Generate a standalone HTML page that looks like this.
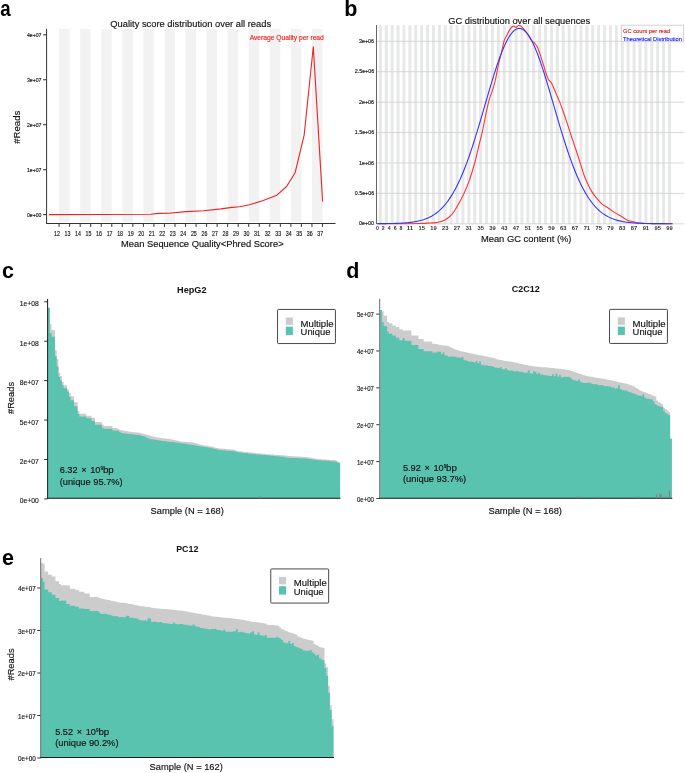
<!DOCTYPE html>
<html><head><meta charset="utf-8"><style>
html,body{margin:0;padding:0;background:#fff;}
svg{display:block;font-family:"Liberation Sans", sans-serif;will-change:transform;}
</style></head><body>
<svg width="685" height="773" viewBox="0 0 685 773">
<rect width="685" height="773" fill="#fff"/>
<text x="0.30" y="16.10" font-size="21.5" font-weight="bold" textLength="10.4" lengthAdjust="spacingAndGlyphs" fill="#000">a</text>
<text x="344.30" y="16.00" font-size="21.5" font-weight="bold" fill="#000">b</text>
<text x="2.00" y="278.20" font-size="21.5" font-weight="bold" fill="#000">c</text>
<text x="346.30" y="278.00" font-size="21.5" font-weight="bold" fill="#000">d</text>
<text x="2.00" y="565.00" font-size="21.5" font-weight="bold" fill="#000">e</text>
<rect x="59.10" y="29" width="10.54" height="193" fill="#f2f2f2"/>
<rect x="80.17" y="29" width="10.53" height="193" fill="#f2f2f2"/>
<rect x="101.24" y="29" width="10.53" height="193" fill="#f2f2f2"/>
<rect x="122.31" y="29" width="10.53" height="193" fill="#f2f2f2"/>
<rect x="143.38" y="29" width="10.53" height="193" fill="#f2f2f2"/>
<rect x="164.45" y="29" width="10.54" height="193" fill="#f2f2f2"/>
<rect x="185.52" y="29" width="10.53" height="193" fill="#f2f2f2"/>
<rect x="206.59" y="29" width="10.53" height="193" fill="#f2f2f2"/>
<rect x="227.66" y="29" width="10.53" height="193" fill="#f2f2f2"/>
<rect x="248.73" y="29" width="10.53" height="193" fill="#f2f2f2"/>
<rect x="269.80" y="29" width="10.54" height="193" fill="#f2f2f2"/>
<rect x="290.87" y="29" width="10.54" height="193" fill="#f2f2f2"/>
<rect x="311.94" y="29" width="10.54" height="193" fill="#f2f2f2"/>
<text x="110.30" y="26.60" font-size="9.33" textLength="160.8" lengthAdjust="spacingAndGlyphs" fill="#111" stroke="#111" stroke-width="0.15">Quality score distribution over all reads</text>
<text x="249.70" y="40.00" font-size="6.68" textLength="74.1" lengthAdjust="spacingAndGlyphs" fill="#ee2222" stroke="#ee2222" stroke-width="0.15">Average Quality per read</text>
<line x1="46.6" y1="28.9" x2="46.6" y2="224" stroke="#333" stroke-width="1"/>
<line x1="46.1" y1="223.5" x2="335.5" y2="223.5" stroke="#333" stroke-width="1"/>
<line x1="43.2" y1="34.80" x2="46.6" y2="34.80" stroke="#333" stroke-width="1.1"/>
<text x="41.50" y="37.40" font-size="5.6" text-anchor="end" textLength="14.5" lengthAdjust="spacingAndGlyphs" fill="#111" stroke="#111" stroke-width="0.15">4e+07</text>
<line x1="43.2" y1="79.75" x2="46.6" y2="79.75" stroke="#333" stroke-width="1.1"/>
<text x="41.50" y="82.35" font-size="5.6" text-anchor="end" textLength="14.5" lengthAdjust="spacingAndGlyphs" fill="#111" stroke="#111" stroke-width="0.15">3e+07</text>
<line x1="43.2" y1="124.70" x2="46.6" y2="124.70" stroke="#333" stroke-width="1.1"/>
<text x="41.50" y="127.30" font-size="5.6" text-anchor="end" textLength="14.5" lengthAdjust="spacingAndGlyphs" fill="#111" stroke="#111" stroke-width="0.15">2e+07</text>
<line x1="43.2" y1="169.65" x2="46.6" y2="169.65" stroke="#333" stroke-width="1.1"/>
<text x="41.50" y="172.25" font-size="5.6" text-anchor="end" textLength="14.5" lengthAdjust="spacingAndGlyphs" fill="#111" stroke="#111" stroke-width="0.15">1e+07</text>
<line x1="43.2" y1="214.60" x2="46.6" y2="214.60" stroke="#333" stroke-width="1.1"/>
<text x="41.50" y="217.20" font-size="5.6" text-anchor="end" textLength="14.5" lengthAdjust="spacingAndGlyphs" fill="#111" stroke="#111" stroke-width="0.15">0e+00</text>
<line x1="59.10" y1="223.5" x2="59.10" y2="226.9" stroke="#333" stroke-width="1.0"/>
<text x="56.90" y="235.80" font-size="6.9" text-anchor="middle" textLength="5.9" lengthAdjust="spacingAndGlyphs" fill="#111" stroke="#111" stroke-width="0.15">12</text>
<line x1="69.64" y1="223.5" x2="69.64" y2="226.9" stroke="#333" stroke-width="1.0"/>
<text x="67.44" y="235.80" font-size="6.9" text-anchor="middle" textLength="5.9" lengthAdjust="spacingAndGlyphs" fill="#111" stroke="#111" stroke-width="0.15">13</text>
<line x1="80.17" y1="223.5" x2="80.17" y2="226.9" stroke="#333" stroke-width="1.0"/>
<text x="77.97" y="235.80" font-size="6.9" text-anchor="middle" textLength="5.9" lengthAdjust="spacingAndGlyphs" fill="#111" stroke="#111" stroke-width="0.15">14</text>
<line x1="90.70" y1="223.5" x2="90.70" y2="226.9" stroke="#333" stroke-width="1.0"/>
<text x="88.50" y="235.80" font-size="6.9" text-anchor="middle" textLength="5.9" lengthAdjust="spacingAndGlyphs" fill="#111" stroke="#111" stroke-width="0.15">15</text>
<line x1="101.24" y1="223.5" x2="101.24" y2="226.9" stroke="#333" stroke-width="1.0"/>
<text x="99.04" y="235.80" font-size="6.9" text-anchor="middle" textLength="5.9" lengthAdjust="spacingAndGlyphs" fill="#111" stroke="#111" stroke-width="0.15">16</text>
<line x1="111.78" y1="223.5" x2="111.78" y2="226.9" stroke="#333" stroke-width="1.0"/>
<text x="109.58" y="235.80" font-size="6.9" text-anchor="middle" textLength="5.9" lengthAdjust="spacingAndGlyphs" fill="#111" stroke="#111" stroke-width="0.15">17</text>
<line x1="122.31" y1="223.5" x2="122.31" y2="226.9" stroke="#333" stroke-width="1.0"/>
<text x="120.11" y="235.80" font-size="6.9" text-anchor="middle" textLength="5.9" lengthAdjust="spacingAndGlyphs" fill="#111" stroke="#111" stroke-width="0.15">18</text>
<line x1="132.84" y1="223.5" x2="132.84" y2="226.9" stroke="#333" stroke-width="1.0"/>
<text x="130.65" y="235.80" font-size="6.9" text-anchor="middle" textLength="5.9" lengthAdjust="spacingAndGlyphs" fill="#111" stroke="#111" stroke-width="0.15">19</text>
<line x1="143.38" y1="223.5" x2="143.38" y2="226.9" stroke="#333" stroke-width="1.0"/>
<text x="141.18" y="235.80" font-size="6.9" text-anchor="middle" textLength="5.9" lengthAdjust="spacingAndGlyphs" fill="#111" stroke="#111" stroke-width="0.15">20</text>
<line x1="153.91" y1="223.5" x2="153.91" y2="226.9" stroke="#333" stroke-width="1.0"/>
<text x="151.72" y="235.80" font-size="6.9" text-anchor="middle" textLength="5.9" lengthAdjust="spacingAndGlyphs" fill="#111" stroke="#111" stroke-width="0.15">21</text>
<line x1="164.45" y1="223.5" x2="164.45" y2="226.9" stroke="#333" stroke-width="1.0"/>
<text x="162.25" y="235.80" font-size="6.9" text-anchor="middle" textLength="5.9" lengthAdjust="spacingAndGlyphs" fill="#111" stroke="#111" stroke-width="0.15">22</text>
<line x1="174.99" y1="223.5" x2="174.99" y2="226.9" stroke="#333" stroke-width="1.0"/>
<text x="172.79" y="235.80" font-size="6.9" text-anchor="middle" textLength="5.9" lengthAdjust="spacingAndGlyphs" fill="#111" stroke="#111" stroke-width="0.15">23</text>
<line x1="185.52" y1="223.5" x2="185.52" y2="226.9" stroke="#333" stroke-width="1.0"/>
<text x="183.32" y="235.80" font-size="6.9" text-anchor="middle" textLength="5.9" lengthAdjust="spacingAndGlyphs" fill="#111" stroke="#111" stroke-width="0.15">24</text>
<line x1="196.06" y1="223.5" x2="196.06" y2="226.9" stroke="#333" stroke-width="1.0"/>
<text x="193.86" y="235.80" font-size="6.9" text-anchor="middle" textLength="5.9" lengthAdjust="spacingAndGlyphs" fill="#111" stroke="#111" stroke-width="0.15">25</text>
<line x1="206.59" y1="223.5" x2="206.59" y2="226.9" stroke="#333" stroke-width="1.0"/>
<text x="204.39" y="235.80" font-size="6.9" text-anchor="middle" textLength="5.9" lengthAdjust="spacingAndGlyphs" fill="#111" stroke="#111" stroke-width="0.15">26</text>
<line x1="217.12" y1="223.5" x2="217.12" y2="226.9" stroke="#333" stroke-width="1.0"/>
<text x="214.93" y="235.80" font-size="6.9" text-anchor="middle" textLength="5.9" lengthAdjust="spacingAndGlyphs" fill="#111" stroke="#111" stroke-width="0.15">27</text>
<line x1="227.66" y1="223.5" x2="227.66" y2="226.9" stroke="#333" stroke-width="1.0"/>
<text x="225.46" y="235.80" font-size="6.9" text-anchor="middle" textLength="5.9" lengthAdjust="spacingAndGlyphs" fill="#111" stroke="#111" stroke-width="0.15">28</text>
<line x1="238.19" y1="223.5" x2="238.19" y2="226.9" stroke="#333" stroke-width="1.0"/>
<text x="236.00" y="235.80" font-size="6.9" text-anchor="middle" textLength="5.9" lengthAdjust="spacingAndGlyphs" fill="#111" stroke="#111" stroke-width="0.15">29</text>
<line x1="248.73" y1="223.5" x2="248.73" y2="226.9" stroke="#333" stroke-width="1.0"/>
<text x="246.53" y="235.80" font-size="6.9" text-anchor="middle" textLength="5.9" lengthAdjust="spacingAndGlyphs" fill="#111" stroke="#111" stroke-width="0.15">30</text>
<line x1="259.26" y1="223.5" x2="259.26" y2="226.9" stroke="#333" stroke-width="1.0"/>
<text x="257.06" y="235.80" font-size="6.9" text-anchor="middle" textLength="5.9" lengthAdjust="spacingAndGlyphs" fill="#111" stroke="#111" stroke-width="0.15">31</text>
<line x1="269.80" y1="223.5" x2="269.80" y2="226.9" stroke="#333" stroke-width="1.0"/>
<text x="267.60" y="235.80" font-size="6.9" text-anchor="middle" textLength="5.9" lengthAdjust="spacingAndGlyphs" fill="#111" stroke="#111" stroke-width="0.15">32</text>
<line x1="280.34" y1="223.5" x2="280.34" y2="226.9" stroke="#333" stroke-width="1.0"/>
<text x="278.14" y="235.80" font-size="6.9" text-anchor="middle" textLength="5.9" lengthAdjust="spacingAndGlyphs" fill="#111" stroke="#111" stroke-width="0.15">33</text>
<line x1="290.87" y1="223.5" x2="290.87" y2="226.9" stroke="#333" stroke-width="1.0"/>
<text x="288.67" y="235.80" font-size="6.9" text-anchor="middle" textLength="5.9" lengthAdjust="spacingAndGlyphs" fill="#111" stroke="#111" stroke-width="0.15">34</text>
<line x1="301.41" y1="223.5" x2="301.41" y2="226.9" stroke="#333" stroke-width="1.0"/>
<text x="299.21" y="235.80" font-size="6.9" text-anchor="middle" textLength="5.9" lengthAdjust="spacingAndGlyphs" fill="#111" stroke="#111" stroke-width="0.15">35</text>
<line x1="311.94" y1="223.5" x2="311.94" y2="226.9" stroke="#333" stroke-width="1.0"/>
<text x="309.74" y="235.80" font-size="6.9" text-anchor="middle" textLength="5.9" lengthAdjust="spacingAndGlyphs" fill="#111" stroke="#111" stroke-width="0.15">36</text>
<line x1="322.48" y1="223.5" x2="322.48" y2="226.9" stroke="#333" stroke-width="1.0"/>
<text x="320.28" y="235.80" font-size="6.9" text-anchor="middle" textLength="5.9" lengthAdjust="spacingAndGlyphs" fill="#111" stroke="#111" stroke-width="0.15">37</text>
<text x="121.00" y="247.40" font-size="9.35" textLength="162.6" lengthAdjust="spacingAndGlyphs" fill="#111" stroke="#111" stroke-width="0.15">Mean Sequence Quality&lt;Phred Score&gt;</text>
<text x="20.20" y="127.20" font-size="9.6" text-anchor="middle" fill="#111" stroke="#111" stroke-width="0.15" transform="rotate(-90 20.2 127.2)">#Reads</text>
<polyline fill="none" stroke="#ee2222" stroke-width="1.1" stroke-linejoin="round" points="49.0,214.6 151.0,214.2 158.6,213.4 168.5,213.3 186.0,211.6 203.5,210.7 221.0,208.9 232.0,207.4 239.6,206.7 249.5,204.7 262.6,200.8 276.9,195.2 286.6,186.5 295.1,172.8 304.2,134.8 313.3,46.8 322.6,201.6"/>
<rect x="378.85" y="25.2" width="3.0" height="198.8" fill="#e7e8e8"/>
<rect x="384.75" y="25.2" width="3.0" height="198.8" fill="#e7e8e8"/>
<rect x="390.65" y="25.2" width="3.0" height="198.8" fill="#e7e8e8"/>
<rect x="396.55" y="25.2" width="3.0" height="198.8" fill="#e7e8e8"/>
<rect x="402.45" y="25.2" width="3.0" height="198.8" fill="#e7e8e8"/>
<rect x="408.35" y="25.2" width="3.0" height="198.8" fill="#e7e8e8"/>
<rect x="414.25" y="25.2" width="3.0" height="198.8" fill="#e7e8e8"/>
<rect x="420.15" y="25.2" width="3.0" height="198.8" fill="#e7e8e8"/>
<rect x="426.05" y="25.2" width="3.0" height="198.8" fill="#e7e8e8"/>
<rect x="431.95" y="25.2" width="3.0" height="198.8" fill="#e7e8e8"/>
<rect x="437.85" y="25.2" width="3.0" height="198.8" fill="#e7e8e8"/>
<rect x="443.75" y="25.2" width="3.0" height="198.8" fill="#e7e8e8"/>
<rect x="449.65" y="25.2" width="3.0" height="198.8" fill="#e7e8e8"/>
<rect x="455.55" y="25.2" width="3.0" height="198.8" fill="#e7e8e8"/>
<rect x="461.45" y="25.2" width="3.0" height="198.8" fill="#e7e8e8"/>
<rect x="467.35" y="25.2" width="3.0" height="198.8" fill="#e7e8e8"/>
<rect x="473.25" y="25.2" width="3.0" height="198.8" fill="#e7e8e8"/>
<rect x="479.15" y="25.2" width="3.0" height="198.8" fill="#e7e8e8"/>
<rect x="485.05" y="25.2" width="3.0" height="198.8" fill="#e7e8e8"/>
<rect x="490.95" y="25.2" width="3.0" height="198.8" fill="#e7e8e8"/>
<rect x="496.85" y="25.2" width="3.0" height="198.8" fill="#e7e8e8"/>
<rect x="502.75" y="25.2" width="3.0" height="198.8" fill="#e7e8e8"/>
<rect x="508.65" y="25.2" width="3.0" height="198.8" fill="#e7e8e8"/>
<rect x="514.55" y="25.2" width="3.0" height="198.8" fill="#e7e8e8"/>
<rect x="520.45" y="25.2" width="3.0" height="198.8" fill="#e7e8e8"/>
<rect x="526.35" y="25.2" width="3.0" height="198.8" fill="#e7e8e8"/>
<rect x="532.25" y="25.2" width="3.0" height="198.8" fill="#e7e8e8"/>
<rect x="538.15" y="25.2" width="3.0" height="198.8" fill="#e7e8e8"/>
<rect x="544.05" y="25.2" width="3.0" height="198.8" fill="#e7e8e8"/>
<rect x="549.95" y="25.2" width="3.0" height="198.8" fill="#e7e8e8"/>
<rect x="555.85" y="25.2" width="3.0" height="198.8" fill="#e7e8e8"/>
<rect x="561.75" y="25.2" width="3.0" height="198.8" fill="#e7e8e8"/>
<rect x="567.65" y="25.2" width="3.0" height="198.8" fill="#e7e8e8"/>
<rect x="573.55" y="25.2" width="3.0" height="198.8" fill="#e7e8e8"/>
<rect x="579.45" y="25.2" width="3.0" height="198.8" fill="#e7e8e8"/>
<rect x="585.35" y="25.2" width="3.0" height="198.8" fill="#e7e8e8"/>
<rect x="591.25" y="25.2" width="3.0" height="198.8" fill="#e7e8e8"/>
<rect x="597.15" y="25.2" width="3.0" height="198.8" fill="#e7e8e8"/>
<rect x="603.05" y="25.2" width="3.0" height="198.8" fill="#e7e8e8"/>
<rect x="608.95" y="25.2" width="3.0" height="198.8" fill="#e7e8e8"/>
<rect x="614.85" y="25.2" width="3.0" height="198.8" fill="#e7e8e8"/>
<rect x="620.75" y="25.2" width="3.0" height="198.8" fill="#e7e8e8"/>
<rect x="626.65" y="25.2" width="3.0" height="198.8" fill="#e7e8e8"/>
<rect x="632.55" y="25.2" width="3.0" height="198.8" fill="#e7e8e8"/>
<rect x="638.45" y="25.2" width="3.0" height="198.8" fill="#e7e8e8"/>
<rect x="644.35" y="25.2" width="3.0" height="198.8" fill="#e7e8e8"/>
<rect x="650.25" y="25.2" width="3.0" height="198.8" fill="#e7e8e8"/>
<rect x="656.15" y="25.2" width="3.0" height="198.8" fill="#e7e8e8"/>
<rect x="662.05" y="25.2" width="3.0" height="198.8" fill="#e7e8e8"/>
<rect x="667.95" y="25.2" width="3.0" height="198.8" fill="#e7e8e8"/>
<line x1="377" y1="41.30" x2="683.8" y2="41.30" stroke="#d2d2d2" stroke-width="0.9"/>
<line x1="377" y1="71.72" x2="683.8" y2="71.72" stroke="#d2d2d2" stroke-width="0.9"/>
<line x1="377" y1="102.14" x2="683.8" y2="102.14" stroke="#d2d2d2" stroke-width="0.9"/>
<line x1="377" y1="132.56" x2="683.8" y2="132.56" stroke="#d2d2d2" stroke-width="0.9"/>
<line x1="377" y1="162.98" x2="683.8" y2="162.98" stroke="#d2d2d2" stroke-width="0.9"/>
<line x1="377" y1="193.40" x2="683.8" y2="193.40" stroke="#d2d2d2" stroke-width="0.9"/>
<line x1="377" y1="223.82" x2="683.8" y2="223.82" stroke="#d2d2d2" stroke-width="0.9"/>
<line x1="376.5" y1="25" x2="376.5" y2="224.2" stroke="#555" stroke-width="0.9"/>
<text x="374.10" y="42.85" font-size="6.0" text-anchor="end" textLength="15.1" lengthAdjust="spacingAndGlyphs" fill="#111" stroke="#111" stroke-width="0.15">3e+06</text>
<text x="374.10" y="73.27" font-size="6.0" text-anchor="end" textLength="19.3" lengthAdjust="spacingAndGlyphs" fill="#111" stroke="#111" stroke-width="0.15">2.5e+06</text>
<text x="374.10" y="103.69" font-size="6.0" text-anchor="end" textLength="15.1" lengthAdjust="spacingAndGlyphs" fill="#111" stroke="#111" stroke-width="0.15">2e+06</text>
<text x="374.10" y="134.11" font-size="6.0" text-anchor="end" textLength="19.3" lengthAdjust="spacingAndGlyphs" fill="#111" stroke="#111" stroke-width="0.15">1.5e+06</text>
<text x="374.10" y="164.53" font-size="6.0" text-anchor="end" textLength="15.1" lengthAdjust="spacingAndGlyphs" fill="#111" stroke="#111" stroke-width="0.15">1e+06</text>
<text x="374.10" y="194.95" font-size="6.0" text-anchor="end" textLength="19.3" lengthAdjust="spacingAndGlyphs" fill="#111" stroke="#111" stroke-width="0.15">0.5e+06</text>
<text x="374.10" y="225.37" font-size="6.0" text-anchor="end" textLength="15.1" lengthAdjust="spacingAndGlyphs" fill="#111" stroke="#111" stroke-width="0.15">0e+00</text>
<text x="377.40" y="229.80" font-size="5.2" text-anchor="middle" font-weight="bold" textLength="2.9" lengthAdjust="spacingAndGlyphs" fill="#333">0</text>
<text x="383.30" y="229.80" font-size="5.2" text-anchor="middle" font-weight="bold" textLength="2.9" lengthAdjust="spacingAndGlyphs" fill="#333">2</text>
<text x="389.20" y="229.80" font-size="5.2" text-anchor="middle" font-weight="bold" textLength="2.9" lengthAdjust="spacingAndGlyphs" fill="#333">4</text>
<text x="395.10" y="229.80" font-size="5.2" text-anchor="middle" font-weight="bold" textLength="2.9" lengthAdjust="spacingAndGlyphs" fill="#333">6</text>
<text x="401.00" y="229.80" font-size="5.2" text-anchor="middle" font-weight="bold" textLength="2.9" lengthAdjust="spacingAndGlyphs" fill="#333">8</text>
<text x="409.85" y="229.80" font-size="5.2" text-anchor="middle" font-weight="bold" textLength="6.4" lengthAdjust="spacingAndGlyphs" fill="#333">11</text>
<text x="421.65" y="229.80" font-size="5.2" text-anchor="middle" font-weight="bold" textLength="6.4" lengthAdjust="spacingAndGlyphs" fill="#333">15</text>
<text x="433.45" y="229.80" font-size="5.2" text-anchor="middle" font-weight="bold" textLength="6.4" lengthAdjust="spacingAndGlyphs" fill="#333">19</text>
<text x="445.25" y="229.80" font-size="5.2" text-anchor="middle" font-weight="bold" textLength="6.4" lengthAdjust="spacingAndGlyphs" fill="#333">23</text>
<text x="457.05" y="229.80" font-size="5.2" text-anchor="middle" font-weight="bold" textLength="6.4" lengthAdjust="spacingAndGlyphs" fill="#333">27</text>
<text x="468.85" y="229.80" font-size="5.2" text-anchor="middle" font-weight="bold" textLength="6.4" lengthAdjust="spacingAndGlyphs" fill="#333">31</text>
<text x="480.65" y="229.80" font-size="5.2" text-anchor="middle" font-weight="bold" textLength="6.4" lengthAdjust="spacingAndGlyphs" fill="#333">35</text>
<text x="492.45" y="229.80" font-size="5.2" text-anchor="middle" font-weight="bold" textLength="6.4" lengthAdjust="spacingAndGlyphs" fill="#333">39</text>
<text x="504.25" y="229.80" font-size="5.2" text-anchor="middle" font-weight="bold" textLength="6.4" lengthAdjust="spacingAndGlyphs" fill="#333">43</text>
<text x="516.05" y="229.80" font-size="5.2" text-anchor="middle" font-weight="bold" textLength="6.4" lengthAdjust="spacingAndGlyphs" fill="#333">47</text>
<text x="527.85" y="229.80" font-size="5.2" text-anchor="middle" font-weight="bold" textLength="6.4" lengthAdjust="spacingAndGlyphs" fill="#333">51</text>
<text x="539.65" y="229.80" font-size="5.2" text-anchor="middle" font-weight="bold" textLength="6.4" lengthAdjust="spacingAndGlyphs" fill="#333">55</text>
<text x="551.45" y="229.80" font-size="5.2" text-anchor="middle" font-weight="bold" textLength="6.4" lengthAdjust="spacingAndGlyphs" fill="#333">59</text>
<text x="563.25" y="229.80" font-size="5.2" text-anchor="middle" font-weight="bold" textLength="6.4" lengthAdjust="spacingAndGlyphs" fill="#333">63</text>
<text x="575.05" y="229.80" font-size="5.2" text-anchor="middle" font-weight="bold" textLength="6.4" lengthAdjust="spacingAndGlyphs" fill="#333">67</text>
<text x="586.85" y="229.80" font-size="5.2" text-anchor="middle" font-weight="bold" textLength="6.4" lengthAdjust="spacingAndGlyphs" fill="#333">71</text>
<text x="598.65" y="229.80" font-size="5.2" text-anchor="middle" font-weight="bold" textLength="6.4" lengthAdjust="spacingAndGlyphs" fill="#333">75</text>
<text x="610.45" y="229.80" font-size="5.2" text-anchor="middle" font-weight="bold" textLength="6.4" lengthAdjust="spacingAndGlyphs" fill="#333">79</text>
<text x="622.25" y="229.80" font-size="5.2" text-anchor="middle" font-weight="bold" textLength="6.4" lengthAdjust="spacingAndGlyphs" fill="#333">83</text>
<text x="634.05" y="229.80" font-size="5.2" text-anchor="middle" font-weight="bold" textLength="6.4" lengthAdjust="spacingAndGlyphs" fill="#333">87</text>
<text x="645.85" y="229.80" font-size="5.2" text-anchor="middle" font-weight="bold" textLength="6.4" lengthAdjust="spacingAndGlyphs" fill="#333">91</text>
<text x="657.65" y="229.80" font-size="5.2" text-anchor="middle" font-weight="bold" textLength="6.4" lengthAdjust="spacingAndGlyphs" fill="#333">95</text>
<text x="669.45" y="229.80" font-size="5.2" text-anchor="middle" font-weight="bold" textLength="6.4" lengthAdjust="spacingAndGlyphs" fill="#333">99</text>
<text x="448.20" y="23.50" font-size="9.33" textLength="142" lengthAdjust="spacingAndGlyphs" fill="#111" stroke="#111" stroke-width="0.15">GC distribution over all sequences</text>
<text x="480.90" y="242.30" font-size="9.37" textLength="90.6" lengthAdjust="spacingAndGlyphs" fill="#111" stroke="#111" stroke-width="0.15">Mean GC content (%)</text>
<rect x="621.3" y="25.2" width="62.4" height="16.5" fill="#fff" stroke="#c8c8c8" stroke-width="0.8"/>
<text x="623.00" y="33.20" font-size="5.7" textLength="47.1" lengthAdjust="spacingAndGlyphs" fill="#dd2222" stroke="#dd2222" stroke-width="0.15">GC count per read</text>
<text x="623.00" y="40.90" font-size="5.7" textLength="58.9" lengthAdjust="spacingAndGlyphs" fill="#2222ee" stroke="#2222ee" stroke-width="0.15">Theoretical Distribution</text>
<path fill="none" stroke="#ff3333" stroke-width="1.1" stroke-linejoin="round" d="M377.40,223.70 C381.17,223.70 392.90,223.73 400.00,223.70 C407.10,223.67 415.00,223.62 420.00,223.50 C425.00,223.38 427.33,223.15 430.00,223.00 C432.67,222.85 434.33,222.80 436.00,222.60 C437.67,222.40 438.52,222.25 440.00,221.80 C441.48,221.35 443.28,220.78 444.90,219.90 C446.52,219.02 448.08,218.03 449.70,216.50 C451.32,214.97 452.98,213.05 454.60,210.70 C456.22,208.35 457.78,205.40 459.40,202.40 C461.02,199.40 462.68,196.25 464.30,192.70 C465.92,189.15 467.48,185.63 469.10,181.10 C470.72,176.57 472.75,169.77 474.00,165.50 C475.25,161.23 475.70,159.17 476.60,155.50 C477.50,151.83 478.47,147.33 479.40,143.50 C480.33,139.67 481.20,137.02 482.20,132.50 C483.20,127.98 484.35,121.42 485.40,116.40 C486.45,111.38 487.65,105.85 488.50,102.40 C489.35,98.95 489.65,98.30 490.50,95.70 C491.35,93.10 492.77,89.50 493.60,86.80 C494.43,84.10 494.65,83.38 495.50,79.50 C496.35,75.62 497.65,68.23 498.70,63.50 C499.75,58.77 500.90,54.88 501.80,51.10 C502.70,47.32 503.33,43.27 504.10,40.80 C504.87,38.33 505.50,38.08 506.40,36.30 C507.30,34.52 508.58,31.65 509.50,30.10 C510.42,28.55 511.18,27.67 511.90,27.00 C512.62,26.33 513.10,26.03 513.80,26.10 C514.50,26.17 515.20,27.53 516.10,27.40 C517.00,27.27 518.10,25.23 519.20,25.30 C520.30,25.37 521.60,26.75 522.70,27.80 C523.80,28.85 524.77,30.18 525.80,31.60 C526.83,33.02 527.87,34.73 528.90,36.30 C529.93,37.87 531.08,39.90 532.00,41.00 C532.92,42.10 533.55,42.00 534.40,42.90 C535.25,43.80 536.20,44.65 537.10,46.40 C538.00,48.15 539.00,51.13 539.80,53.40 C540.60,55.67 541.20,57.80 541.90,60.00 C542.60,62.20 543.38,64.60 544.00,66.60 C544.62,68.60 544.87,69.87 545.60,72.00 C546.33,74.13 547.40,77.52 548.40,79.40 C549.40,81.28 550.42,81.15 551.60,83.30 C552.78,85.45 554.20,89.28 555.50,92.30 C556.80,95.32 558.10,98.17 559.40,101.40 C560.70,104.63 562.00,108.03 563.30,111.70 C564.60,115.37 565.92,119.52 567.20,123.40 C568.48,127.28 569.72,131.12 571.00,135.00 C572.28,138.88 573.60,142.78 574.90,146.70 C576.20,150.62 577.28,153.78 578.80,158.50 C580.32,163.22 582.55,170.88 584.00,175.00 C585.45,179.12 586.23,180.47 587.50,183.20 C588.77,185.93 590.03,188.87 591.60,191.40 C593.17,193.93 595.15,196.27 596.90,198.40 C598.65,200.53 600.17,202.55 602.10,204.20 C604.03,205.85 606.45,206.93 608.50,208.30 C610.55,209.67 612.25,211.03 614.40,212.40 C616.55,213.77 619.07,215.13 621.40,216.50 C623.73,217.87 626.07,219.63 628.40,220.60 C630.73,221.57 633.07,221.85 635.40,222.30 C637.73,222.75 639.13,223.07 642.40,223.30 C645.67,223.53 649.97,223.63 655.00,223.70 C660.03,223.77 669.67,223.70 672.60,223.70"/>
<polyline fill="none" stroke="#3333ff" stroke-width="1.1" stroke-linejoin="round" points="377.4,223.66 378.4,223.66 379.4,223.65 380.4,223.64 381.4,223.64 382.4,223.63 383.4,223.62 384.4,223.61 385.4,223.60 386.4,223.59 387.4,223.57 388.4,223.56 389.4,223.54 390.4,223.53 391.4,223.51 392.4,223.48 393.4,223.46 394.4,223.43 395.4,223.40 396.4,223.37 397.4,223.33 398.4,223.29 399.4,223.25 400.4,223.20 401.4,223.15 402.4,223.09 403.4,223.03 404.4,222.96 405.4,222.89 406.4,222.81 407.4,222.72 408.4,222.62 409.4,222.51 410.4,222.40 411.4,222.27 412.4,222.14 413.4,221.99 414.4,221.83 415.4,221.66 416.4,221.47 417.4,221.27 418.4,221.05 419.4,220.82 420.4,220.57 421.4,220.30 422.4,220.00 423.4,219.69 424.4,219.35 425.4,218.99 426.4,218.61 427.4,218.19 428.4,217.75 429.4,217.28 430.4,216.77 431.4,216.24 432.4,215.67 433.4,215.06 434.4,214.41 435.4,213.72 436.4,212.99 437.4,212.22 438.4,211.41 439.4,210.54 440.4,209.63 441.4,208.66 442.4,207.65 443.4,206.58 444.4,205.45 445.4,204.27 446.4,203.02 447.4,201.72 448.4,200.35 449.4,198.92 450.4,197.42 451.4,195.86 452.4,194.23 453.4,192.53 454.4,190.75 455.4,188.91 456.4,187.00 457.4,185.01 458.4,182.95 459.4,180.82 460.4,178.61 461.4,176.33 462.4,173.97 463.4,171.54 464.4,169.05 465.4,166.47 466.4,163.83 467.4,161.12 468.4,158.34 469.4,155.50 470.4,152.59 471.4,149.62 472.4,146.60 473.4,143.51 474.4,140.38 475.4,137.19 476.4,133.96 477.4,130.69 478.4,127.37 479.4,124.03 480.4,120.65 481.4,117.26 482.4,113.84 483.4,110.41 484.4,106.97 485.4,103.52 486.4,100.08 487.4,96.65 488.4,93.23 489.4,89.84 490.4,86.47 491.4,83.14 492.4,79.85 493.4,76.60 494.4,73.41 495.4,70.28 496.4,67.22 497.4,64.22 498.4,61.31 499.4,58.49 500.4,55.76 501.4,53.13 502.4,50.60 503.4,48.19 504.4,45.89 505.4,43.71 506.4,41.66 507.4,39.74 508.4,37.96 509.4,36.32 510.4,34.83 511.4,33.48 512.4,32.29 513.4,31.25 514.4,30.37 515.4,29.65 516.4,29.09 517.4,28.70 518.4,28.47 519.4,28.40 520.4,28.50 521.4,28.76 522.4,29.19 523.4,29.78 524.4,30.53 525.4,31.45 526.4,32.52 527.4,33.74 528.4,35.12 529.4,36.64 530.4,38.31 531.4,40.12 532.4,42.06 533.4,44.14 534.4,46.34 535.4,48.66 536.4,51.10 537.4,53.65 538.4,56.30 539.4,59.05 540.4,61.89 541.4,64.82 542.4,67.82 543.4,70.90 544.4,74.04 545.4,77.25 546.4,80.50 547.4,83.80 548.4,87.14 549.4,90.52 550.4,93.92 551.4,97.34 552.4,100.77 553.4,104.21 554.4,107.65 555.4,111.09 556.4,114.52 557.4,117.94 558.4,121.33 559.4,124.70 560.4,128.04 561.4,131.34 562.4,134.61 563.4,137.83 564.4,141.01 565.4,144.13 566.4,147.21 567.4,150.22 568.4,153.18 569.4,156.07 570.4,158.90 571.4,161.67 572.4,164.37 573.4,166.99 574.4,169.55 575.4,172.04 576.4,174.45 577.4,176.79 578.4,179.06 579.4,181.25 580.4,183.37 581.4,185.41 582.4,187.39 583.4,189.29 584.4,191.11 585.4,192.87 586.4,194.56 587.4,196.18 588.4,197.73 589.4,199.21 590.4,200.63 591.4,201.98 592.4,203.28 593.4,204.51 594.4,205.68 595.4,206.80 596.4,207.85 597.4,208.86 598.4,209.81 599.4,210.72 600.4,211.57 601.4,212.38 602.4,213.14 603.4,213.86 604.4,214.54 605.4,215.18 606.4,215.78 607.4,216.35 608.4,216.88 609.4,217.38 610.4,217.84 611.4,218.28 612.4,218.69 613.4,219.07 614.4,219.42 615.4,219.76 616.4,220.06 617.4,220.35 618.4,220.62 619.4,220.87 620.4,221.10 621.4,221.31 622.4,221.51 623.4,221.69 624.4,221.86 625.4,222.02 626.4,222.17 627.4,222.30 628.4,222.42 629.4,222.54 630.4,222.64 631.4,222.73 632.4,222.82 633.4,222.90 634.4,222.98 635.4,223.04 636.4,223.11 637.4,223.16 638.4,223.21 639.4,223.26 640.4,223.30 641.4,223.34 642.4,223.38 643.4,223.41 644.4,223.44 645.4,223.46 646.4,223.49 647.4,223.51 648.4,223.53 649.4,223.55 650.4,223.56 651.4,223.58 652.4,223.59 653.4,223.60 654.4,223.61 655.4,223.62 656.4,223.63 657.4,223.64 658.4,223.65 659.4,223.65 660.4,223.66 661.4,223.66 662.4,223.67 663.4,223.67 664.4,223.67 665.4,223.68 666.4,223.68 667.4,223.68 668.4,223.68 669.4,223.69 670.4,223.69 671.4,223.69 672.4,223.69"/>
<path d="M48.00,498.30 L48.00,307.70 L49.74,307.70 L49.74,324.20 L51.48,324.20 L51.48,330.00 L53.22,330.00 L53.22,330.00 L54.95,330.00 L54.95,350.00 L56.69,350.00 L56.69,359.30 L58.43,359.30 L58.43,372.80 L60.17,372.80 L60.17,375.90 L61.91,375.90 L61.91,382.10 L63.65,382.10 L63.65,385.20 L65.39,385.20 L65.39,385.20 L67.13,385.20 L67.13,389.40 L68.86,389.40 L68.86,393.00 L70.60,393.00 L70.60,396.30 L72.34,396.30 L72.34,396.30 L74.08,396.30 L74.08,402.20 L75.82,402.20 L75.82,402.20 L77.56,402.20 L77.56,410.90 L79.30,410.90 L79.30,413.80 L81.04,413.80 L81.04,413.80 L82.77,413.80 L82.77,413.80 L84.51,413.80 L84.51,413.80 L86.25,413.80 L86.25,415.70 L87.99,415.70 L87.99,415.70 L89.73,415.70 L89.73,415.70 L91.47,415.70 L91.47,417.80 L93.21,417.80 L93.21,417.80 L94.94,417.80 L94.94,421.90 L96.68,421.90 L96.68,421.90 L98.42,421.90 L98.42,421.90 L100.16,421.90 L100.16,421.90 L101.90,421.90 L101.90,424.40 L103.64,424.40 L103.64,425.90 L105.38,425.90 L105.38,425.90 L107.12,425.90 L107.12,425.90 L108.85,425.90 L108.85,425.90 L110.59,425.90 L110.59,425.90 L112.33,425.90 L112.33,428.10 L114.07,428.10 L114.07,428.10 L115.81,428.10 L115.81,428.10 L117.55,428.10 L117.55,429.02 L119.29,429.02 L119.29,429.91 L121.03,429.91 L121.03,430.25 L122.76,430.25 L122.76,430.59 L124.50,430.59 L124.50,430.88 L126.24,430.88 L126.24,431.15 L127.98,431.15 L127.98,431.42 L129.72,431.42 L129.72,431.69 L131.46,431.69 L131.46,431.93 L133.20,431.93 L133.20,432.14 L134.93,432.14 L134.93,432.35 L136.67,432.35 L136.67,432.56 L138.41,432.56 L138.41,432.77 L140.15,432.77 L140.15,433.17 L141.89,433.17 L141.89,433.60 L143.63,433.60 L143.63,434.03 L145.37,434.03 L145.37,434.51 L147.11,434.51 L147.11,435.07 L148.84,435.07 L148.84,435.57 L150.58,435.57 L150.58,436.02 L152.32,436.02 L152.32,436.48 L154.06,436.48 L154.06,436.92 L155.80,436.92 L155.80,437.24 L157.54,437.24 L157.54,437.55 L159.28,437.55 L159.28,437.87 L161.01,437.87 L161.01,438.18 L162.75,438.18 L162.75,438.36 L164.49,438.36 L164.49,438.53 L166.23,438.53 L166.23,438.70 L167.97,438.70 L167.97,438.87 L169.71,438.87 L169.71,439.21 L171.45,439.21 L171.45,439.57 L173.19,439.57 L173.19,439.93 L174.92,439.93 L174.92,440.29 L176.66,440.29 L176.66,440.66 L178.40,440.66 L178.40,441.03 L180.14,441.03 L180.14,441.40 L181.88,441.40 L181.88,441.73 L183.62,441.73 L183.62,441.87 L185.36,441.87 L185.36,442.01 L187.10,442.01 L187.10,442.09 L188.83,442.09 L188.83,442.16 L190.57,442.16 L190.57,442.24 L192.31,442.24 L192.31,442.41 L194.05,442.41 L194.05,442.93 L195.79,442.93 L195.79,443.45 L197.53,443.45 L197.53,443.97 L199.27,443.97 L199.27,444.49 L201.00,444.49 L201.00,444.96 L202.74,444.96 L202.74,445.26 L204.48,445.26 L204.48,445.56 L206.22,445.56 L206.22,445.85 L207.96,445.85 L207.96,446.15 L209.70,446.15 L209.70,446.46 L211.44,446.46 L211.44,446.86 L213.18,446.86 L213.18,447.26 L214.91,447.26 L214.91,447.66 L216.65,447.66 L216.65,448.06 L218.39,448.06 L218.39,448.42 L220.13,448.42 L220.13,448.56 L221.87,448.56 L221.87,448.71 L223.61,448.71 L223.61,448.85 L225.35,448.85 L225.35,448.99 L227.09,448.99 L227.09,449.14 L228.82,449.14 L228.82,449.28 L230.56,449.28 L230.56,449.42 L232.30,449.42 L232.30,449.56 L234.04,449.56 L234.04,450.05 L235.78,450.05 L235.78,450.64 L237.52,450.64 L237.52,451.14 L239.26,451.14 L239.26,451.33 L240.99,451.33 L240.99,451.51 L242.73,451.51 L242.73,451.69 L244.47,451.69 L244.47,451.88 L246.21,451.88 L246.21,452.06 L247.95,452.06 L247.95,452.25 L249.69,452.25 L249.69,452.43 L251.43,452.43 L251.43,452.61 L253.17,452.61 L253.17,452.79 L254.90,452.79 L254.90,452.97 L256.64,452.97 L256.64,453.15 L258.38,453.15 L258.38,453.33 L260.12,453.33 L260.12,453.51 L261.86,453.51 L261.86,453.68 L263.60,453.68 L263.60,453.86 L265.34,453.86 L265.34,454.03 L267.08,454.03 L267.08,454.16 L268.81,454.16 L268.81,454.30 L270.55,454.30 L270.55,454.43 L272.29,454.43 L272.29,454.57 L274.03,454.57 L274.03,454.70 L275.77,454.70 L275.77,454.83 L277.51,454.83 L277.51,454.97 L279.25,454.97 L279.25,455.10 L280.98,455.10 L280.98,455.23 L282.72,455.23 L282.72,455.37 L284.46,455.37 L284.46,455.58 L286.20,455.58 L286.20,455.83 L287.94,455.83 L287.94,455.97 L289.68,455.97 L289.68,456.07 L291.42,456.07 L291.42,456.17 L293.16,456.17 L293.16,456.28 L294.89,456.28 L294.89,456.38 L296.63,456.38 L296.63,456.48 L298.37,456.48 L298.37,456.58 L300.11,456.58 L300.11,456.68 L301.85,456.68 L301.85,456.78 L303.59,456.78 L303.59,456.89 L305.33,456.89 L305.33,457.10 L307.06,457.10 L307.06,457.34 L308.80,457.34 L308.80,457.58 L310.54,457.58 L310.54,457.82 L312.28,457.82 L312.28,458.13 L314.02,458.13 L314.02,458.44 L315.76,458.44 L315.76,458.75 L317.50,458.75 L317.50,459.03 L319.24,459.03 L319.24,459.16 L320.97,459.16 L320.97,459.29 L322.71,459.29 L322.71,459.42 L324.45,459.42 L324.45,459.55 L326.19,459.55 L326.19,459.67 L327.93,459.67 L327.93,459.78 L329.67,459.78 L329.67,459.88 L331.41,459.88 L331.41,459.98 L333.15,459.98 L333.15,460.08 L334.88,460.08 L334.88,460.19 L336.62,460.19 L336.62,461.21 L338.36,461.21 L338.36,462.24 L340.10,462.24 L340.10,498.30 Z" fill="#cccccc"/>
<path d="M48.00,498.30 L48.00,307.70 L49.74,307.70 L49.74,332.90 L51.48,332.90 L51.48,336.70 L53.22,336.70 L53.22,336.70 L54.95,336.70 L54.95,356.20 L56.69,356.20 L56.69,366.60 L58.43,366.60 L58.43,376.90 L60.17,376.90 L60.17,380.60 L61.91,380.60 L61.91,385.20 L63.65,385.20 L63.65,388.30 L65.39,388.30 L65.39,388.30 L67.13,388.30 L67.13,391.40 L68.86,391.40 L68.86,396.70 L70.60,396.70 L70.60,400.30 L72.34,400.30 L72.34,400.30 L74.08,400.30 L74.08,406.20 L75.82,406.20 L75.82,406.20 L77.56,406.20 L77.56,413.80 L79.30,413.80 L79.30,416.40 L81.04,416.40 L81.04,416.40 L82.77,416.40 L82.77,416.40 L84.51,416.40 L84.51,416.40 L86.25,416.40 L86.25,418.20 L87.99,418.20 L87.99,418.20 L89.73,418.20 L89.73,418.20 L91.47,418.20 L91.47,421.10 L93.21,421.10 L93.21,421.10 L94.94,421.10 L94.94,424.80 L96.68,424.80 L96.68,424.80 L98.42,424.80 L98.42,424.80 L100.16,424.80 L100.16,424.80 L101.90,424.80 L101.90,428.10 L103.64,428.10 L103.64,428.80 L105.38,428.80 L105.38,428.80 L107.12,428.80 L107.12,428.80 L108.85,428.80 L108.85,428.80 L110.59,428.80 L110.59,428.80 L112.33,428.80 L112.33,430.60 L114.07,430.60 L114.07,430.60 L115.81,430.60 L115.81,430.60 L117.55,430.60 L117.55,430.90 L119.29,430.90 L119.29,432.13 L121.03,432.13 L121.03,432.91 L122.76,432.91 L122.76,433.16 L124.50,433.16 L124.50,433.40 L126.24,433.40 L126.24,433.65 L127.98,433.65 L127.98,433.89 L129.72,433.89 L129.72,434.13 L131.46,434.13 L131.46,434.32 L133.20,434.32 L133.20,434.51 L134.93,434.51 L134.93,434.70 L136.67,434.70 L136.67,434.89 L138.41,434.89 L138.41,435.08 L140.15,435.08 L140.15,435.55 L141.89,435.55 L141.89,436.06 L143.63,436.06 L143.63,436.57 L145.37,436.57 L145.37,437.21 L147.11,437.21 L147.11,438.06 L148.84,438.06 L148.84,438.90 L150.58,438.90 L150.58,439.18 L152.32,439.18 L152.32,439.46 L154.06,439.46 L154.06,439.74 L155.80,439.74 L155.80,440.03 L157.54,440.03 L157.54,440.31 L159.28,440.31 L159.28,440.60 L161.01,440.60 L161.01,440.88 L162.75,440.88 L162.75,441.08 L164.49,441.08 L164.49,441.28 L166.23,441.28 L166.23,441.47 L167.97,441.47 L167.97,441.67 L169.71,441.67 L169.71,441.88 L171.45,441.88 L171.45,442.09 L173.19,442.09 L173.19,442.30 L174.92,442.30 L174.92,442.52 L176.66,442.52 L176.66,442.73 L178.40,442.73 L178.40,442.95 L180.14,442.95 L180.14,443.17 L181.88,443.17 L181.88,443.39 L183.62,443.39 L183.62,443.61 L185.36,443.61 L185.36,443.84 L187.10,443.84 L187.10,444.14 L188.83,444.14 L188.83,444.45 L190.57,444.45 L190.57,444.75 L192.31,444.75 L192.31,445.05 L194.05,445.05 L194.05,445.36 L195.79,445.36 L195.79,445.66 L197.53,445.66 L197.53,445.96 L199.27,445.96 L199.27,446.24 L201.00,446.24 L201.00,446.50 L202.74,446.50 L202.74,446.77 L204.48,446.77 L204.48,447.04 L206.22,447.04 L206.22,447.31 L207.96,447.31 L207.96,447.57 L209.70,447.57 L209.70,447.86 L211.44,447.86 L211.44,448.28 L213.18,448.28 L213.18,448.70 L214.91,448.70 L214.91,449.12 L216.65,449.12 L216.65,449.54 L218.39,449.54 L218.39,449.92 L220.13,449.92 L220.13,450.06 L221.87,450.06 L221.87,450.21 L223.61,450.21 L223.61,450.35 L225.35,450.35 L225.35,450.49 L227.09,450.49 L227.09,450.64 L228.82,450.64 L228.82,450.78 L230.56,450.78 L230.56,450.92 L232.30,450.92 L232.30,451.06 L234.04,451.06 L234.04,451.41 L235.78,451.41 L235.78,451.82 L237.52,451.82 L237.52,452.24 L239.26,452.24 L239.26,452.57 L240.99,452.57 L240.99,452.77 L242.73,452.77 L242.73,452.97 L244.47,452.97 L244.47,453.17 L246.21,453.17 L246.21,453.37 L247.95,453.37 L247.95,453.57 L249.69,453.57 L249.69,453.77 L251.43,453.77 L251.43,453.97 L253.17,453.97 L253.17,454.12 L254.90,454.12 L254.90,454.28 L256.64,454.28 L256.64,454.43 L258.38,454.43 L258.38,454.58 L260.12,454.58 L260.12,454.73 L261.86,454.73 L261.86,454.88 L263.60,454.88 L263.60,455.03 L265.34,455.03 L265.34,455.18 L267.08,455.18 L267.08,455.33 L268.81,455.33 L268.81,455.50 L270.55,455.50 L270.55,455.67 L272.29,455.67 L272.29,455.84 L274.03,455.84 L274.03,456.01 L275.77,456.01 L275.77,456.18 L277.51,456.18 L277.51,456.35 L279.25,456.35 L279.25,456.52 L280.98,456.52 L280.98,456.69 L282.72,456.69 L282.72,456.86 L284.46,456.86 L284.46,457.23 L286.20,457.23 L286.20,457.67 L287.94,457.67 L287.94,457.84 L289.68,457.84 L289.68,457.89 L291.42,457.89 L291.42,457.94 L293.16,457.94 L293.16,457.99 L294.89,457.99 L294.89,458.04 L296.63,458.04 L296.63,458.09 L298.37,458.09 L298.37,458.14 L300.11,458.14 L300.11,458.19 L301.85,458.19 L301.85,458.24 L303.59,458.24 L303.59,458.29 L305.33,458.29 L305.33,458.50 L307.06,458.50 L307.06,458.74 L308.80,458.74 L308.80,458.98 L310.54,458.98 L310.54,459.22 L312.28,459.22 L312.28,459.48 L314.02,459.48 L314.02,459.74 L315.76,459.74 L315.76,460.00 L317.50,460.00 L317.50,460.22 L319.24,460.22 L319.24,460.31 L320.97,460.31 L320.97,460.40 L322.71,460.40 L322.71,460.50 L324.45,460.50 L324.45,460.59 L326.19,460.59 L326.19,460.68 L327.93,460.68 L327.93,460.85 L329.67,460.85 L329.67,461.03 L331.41,461.03 L331.41,461.21 L333.15,461.21 L333.15,461.39 L334.88,461.39 L334.88,461.57 L336.62,461.57 L336.62,462.35 L338.36,462.35 L338.36,463.18 L340.10,463.18 L340.10,498.30 Z" fill="#59c3af"/>
<line x1="44.20" y1="301.80" x2="47.60" y2="301.80" stroke="#333" stroke-width="1.0"/>
<text x="38.70" y="306.30" font-size="8.1" text-anchor="end" textLength="18.9" lengthAdjust="spacingAndGlyphs" fill="#111" stroke="#111" stroke-width="0.15">1e+08</text>
<line x1="44.20" y1="341.22" x2="47.60" y2="341.22" stroke="#333" stroke-width="1.0"/>
<text x="38.70" y="345.72" font-size="8.1" text-anchor="end" textLength="18.9" lengthAdjust="spacingAndGlyphs" fill="#111" stroke="#111" stroke-width="0.15">1e+08</text>
<line x1="44.20" y1="380.64" x2="47.60" y2="380.64" stroke="#333" stroke-width="1.0"/>
<text x="38.70" y="385.14" font-size="8.1" text-anchor="end" textLength="18.9" lengthAdjust="spacingAndGlyphs" fill="#111" stroke="#111" stroke-width="0.15">8e+07</text>
<line x1="44.20" y1="420.06" x2="47.60" y2="420.06" stroke="#333" stroke-width="1.0"/>
<text x="38.70" y="424.56" font-size="8.1" text-anchor="end" textLength="18.9" lengthAdjust="spacingAndGlyphs" fill="#111" stroke="#111" stroke-width="0.15">5e+07</text>
<line x1="44.20" y1="459.48" x2="47.60" y2="459.48" stroke="#333" stroke-width="1.0"/>
<text x="38.70" y="463.98" font-size="8.1" text-anchor="end" textLength="18.9" lengthAdjust="spacingAndGlyphs" fill="#111" stroke="#111" stroke-width="0.15">2e+07</text>
<line x1="44.20" y1="498.90" x2="47.60" y2="498.90" stroke="#333" stroke-width="1.0"/>
<text x="38.70" y="503.40" font-size="8.1" text-anchor="end" textLength="18.9" lengthAdjust="spacingAndGlyphs" fill="#111" stroke="#111" stroke-width="0.15">0e+00</text>
<line x1="47.60" y1="298.90" x2="47.60" y2="498.80" stroke="#1a1a1a" stroke-width="1"/>
<line x1="47.10" y1="498.30" x2="340.50" y2="498.30" stroke="#1a1a1a" stroke-width="1.1"/>
<text x="191.80" y="292.80" font-size="9.15" text-anchor="middle" font-weight="bold" fill="#111">HepG2</text>
<text x="150.60" y="514.30" font-size="9.33" textLength="73.3" lengthAdjust="spacingAndGlyphs" fill="#111" stroke="#111" stroke-width="0.15">Sample (N = 168)</text>
<text x="14.00" y="398.00" font-size="9.3" text-anchor="middle" fill="#111" stroke="#111" stroke-width="0.15" transform="rotate(-90 14.0 398.0)">#Reads</text>
<text x="59.70" y="473.20" font-size="9.2" fill="#111" stroke="#111" stroke-width="0.15">6.32</text>
<text x="83.90" y="473.20" font-size="9.2" text-anchor="middle" fill="#111" stroke="#111" stroke-width="0.15">×</text>
<text x="90.20" y="473.20" font-size="9.2" fill="#111" stroke="#111" stroke-width="0.15">10</text>
<text x="100.50" y="470.30" font-size="4.6" fill="#111" stroke="#111" stroke-width="0.15">9</text>
<text x="102.90" y="473.20" font-size="9.2" textLength="10.8" lengthAdjust="spacingAndGlyphs" fill="#111" stroke="#111" stroke-width="0.15">bp</text>
<text x="59.70" y="484.50" font-size="9.2" textLength="63.0" lengthAdjust="spacingAndGlyphs" fill="#111" stroke="#111" stroke-width="0.15">(unique 95.7%)</text>
<rect x="277.55" y="309.45" width="57.9" height="34.1" rx="0.8" fill="#fff" stroke="#333" stroke-width="0.9"/>
<rect x="285.80" y="317.50" width="7.1" height="7.4" fill="#cccccc"/>
<rect x="285.80" y="326.70" width="7.1" height="8.4" fill="#59c3af"/>
<text x="300.60" y="326.70" font-size="9.5" textLength="33.0" lengthAdjust="spacingAndGlyphs" fill="#111" stroke="#111" stroke-width="0.15">Multiple</text>
<text x="300.60" y="335.30" font-size="9.5" textLength="29.8" lengthAdjust="spacingAndGlyphs" fill="#111" stroke="#111" stroke-width="0.15">Unique</text>
<path d="M380.20,498.30 L380.20,310.10 L381.94,310.10 L381.94,311.40 L383.67,311.40 L383.67,315.80 L385.41,315.80 L385.41,315.80 L387.15,315.80 L387.15,321.90 L388.88,321.90 L388.88,323.20 L390.62,323.20 L390.62,323.20 L392.35,323.20 L392.35,325.40 L394.09,325.40 L394.09,325.40 L395.83,325.40 L395.83,327.10 L397.56,327.10 L397.56,327.10 L399.30,327.10 L399.30,329.30 L401.04,329.30 L401.04,329.30 L402.77,329.30 L402.77,330.60 L404.51,330.60 L404.51,330.60 L406.24,330.60 L406.24,330.60 L407.98,330.60 L407.98,330.60 L409.72,330.60 L409.72,330.60 L411.45,330.60 L411.45,335.50 L413.19,335.50 L413.19,335.50 L414.93,335.50 L414.93,335.50 L416.66,335.50 L416.66,335.50 L418.40,335.50 L418.40,339.00 L420.14,339.00 L420.14,339.00 L421.87,339.00 L421.87,339.00 L423.61,339.00 L423.61,341.60 L425.34,341.60 L425.34,341.60 L427.08,341.60 L427.08,341.60 L428.82,341.60 L428.82,341.60 L430.55,341.60 L430.55,341.60 L432.29,341.60 L432.29,343.80 L434.03,343.80 L434.03,343.80 L435.76,343.80 L435.76,343.99 L437.50,343.99 L437.50,344.50 L439.23,344.50 L439.23,345.01 L440.97,345.01 L440.97,345.25 L442.71,345.25 L442.71,345.42 L444.44,345.42 L444.44,345.60 L446.18,345.60 L446.18,345.77 L447.92,345.77 L447.92,346.15 L449.65,346.15 L449.65,347.05 L451.39,347.05 L451.39,347.95 L453.12,347.95 L453.12,348.78 L454.86,348.78 L454.86,349.40 L456.60,349.40 L456.60,350.03 L458.33,350.03 L458.33,350.66 L460.07,350.66 L460.07,351.13 L461.81,351.13 L461.81,351.55 L463.54,351.55 L463.54,351.98 L465.28,351.98 L465.28,352.37 L467.02,352.37 L467.02,352.74 L468.75,352.74 L468.75,353.11 L470.49,353.11 L470.49,353.47 L472.22,353.47 L472.22,353.84 L473.96,353.84 L473.96,354.20 L475.70,354.20 L475.70,354.57 L477.43,354.57 L477.43,354.89 L479.17,354.89 L479.17,355.19 L480.91,355.19 L480.91,355.49 L482.64,355.49 L482.64,355.84 L484.38,355.84 L484.38,356.21 L486.11,356.21 L486.11,356.58 L487.85,356.58 L487.85,356.94 L489.59,356.94 L489.59,357.29 L491.32,357.29 L491.32,357.64 L493.06,357.64 L493.06,357.99 L494.80,357.99 L494.80,358.64 L496.53,358.64 L496.53,359.26 L498.27,359.26 L498.27,359.63 L500.01,359.63 L500.01,360.00 L501.74,360.00 L501.74,360.36 L503.48,360.36 L503.48,360.72 L505.21,360.72 L505.21,361.00 L506.95,361.00 L506.95,361.27 L508.69,361.27 L508.69,361.54 L510.42,361.54 L510.42,361.81 L512.16,361.81 L512.16,362.08 L513.90,362.08 L513.90,362.39 L515.63,362.39 L515.63,362.81 L517.37,362.81 L517.37,363.24 L519.10,363.24 L519.10,363.66 L520.84,363.66 L520.84,364.08 L522.58,364.08 L522.58,364.45 L524.31,364.45 L524.31,364.77 L526.05,364.77 L526.05,365.09 L527.79,365.09 L527.79,365.41 L529.52,365.41 L529.52,365.73 L531.26,365.73 L531.26,366.01 L533.00,366.01 L533.00,366.27 L534.73,366.27 L534.73,366.54 L536.47,366.54 L536.47,366.81 L538.20,366.81 L538.20,366.96 L539.94,366.96 L539.94,367.06 L541.68,367.06 L541.68,367.15 L543.41,367.15 L543.41,367.25 L545.15,367.25 L545.15,367.34 L546.89,367.34 L546.89,367.48 L548.62,367.48 L548.62,367.69 L550.36,367.69 L550.36,367.90 L552.09,367.90 L552.09,368.11 L553.83,368.11 L553.83,368.33 L555.57,368.33 L555.57,368.50 L557.30,368.50 L557.30,368.64 L559.04,368.64 L559.04,368.79 L560.78,368.79 L560.78,369.02 L562.51,369.02 L562.51,369.26 L564.25,369.26 L564.25,369.49 L565.99,369.49 L565.99,369.73 L567.72,369.73 L567.72,369.96 L569.46,369.96 L569.46,370.38 L571.19,370.38 L571.19,371.04 L572.93,371.04 L572.93,371.69 L574.67,371.69 L574.67,372.35 L576.40,372.35 L576.40,373.01 L578.14,373.01 L578.14,373.56 L579.88,373.56 L579.88,374.10 L581.61,374.10 L581.61,374.63 L583.35,374.63 L583.35,375.16 L585.08,375.16 L585.08,375.69 L586.82,375.69 L586.82,376.07 L588.56,376.07 L588.56,376.41 L590.29,376.41 L590.29,376.75 L592.03,376.75 L592.03,377.09 L593.77,377.09 L593.77,377.43 L595.50,377.43 L595.50,377.70 L597.24,377.70 L597.24,377.96 L598.97,377.96 L598.97,378.22 L600.71,378.22 L600.71,378.47 L602.45,378.47 L602.45,378.73 L604.18,378.73 L604.18,379.06 L605.92,379.06 L605.92,379.42 L607.66,379.42 L607.66,379.78 L609.39,379.78 L609.39,380.14 L611.13,380.14 L611.13,380.50 L612.87,380.50 L612.87,380.90 L614.60,380.90 L614.60,381.33 L616.34,381.33 L616.34,381.76 L618.07,381.76 L618.07,382.19 L619.81,382.19 L619.81,382.54 L621.55,382.54 L621.55,382.86 L623.28,382.86 L623.28,383.18 L625.02,383.18 L625.02,383.50 L626.76,383.50 L626.76,384.03 L628.49,384.03 L628.49,384.64 L630.23,384.64 L630.23,385.25 L631.96,385.25 L631.96,385.86 L633.70,385.86 L633.70,386.73 L635.44,386.73 L635.44,387.91 L637.17,387.91 L637.17,389.10 L638.91,389.10 L638.91,390.21 L640.65,390.21 L640.65,390.92 L642.38,390.92 L642.38,391.63 L644.12,391.63 L644.12,392.30 L645.86,392.30 L645.86,392.95 L647.59,392.95 L647.59,393.63 L649.33,393.63 L649.33,394.34 L651.06,394.34 L651.06,395.05 L652.80,395.05 L652.80,395.69 L654.54,395.69 L654.54,396.62 L656.27,396.62 L656.27,400.48 L658.01,400.48 L658.01,401.76 L659.75,401.76 L659.75,403.05 L661.48,403.05 L661.48,404.34 L663.22,404.34 L663.22,407.76 L664.95,407.76 L664.95,408.94 L666.69,408.94 L666.69,410.13 L668.43,410.13 L668.43,412.24 L670.16,412.24 L670.16,438.80 L671.90,438.80 L671.90,498.30 Z" fill="#cccccc"/>
<path d="M380.20,498.30 L380.20,310.10 L381.94,310.10 L381.94,321.90 L383.67,321.90 L383.67,326.30 L385.41,326.30 L385.41,326.30 L387.15,326.30 L387.15,331.50 L388.88,331.50 L388.88,333.70 L390.62,333.70 L390.62,333.70 L392.35,333.70 L392.35,335.50 L394.09,335.50 L394.09,335.50 L395.83,335.50 L395.83,337.70 L397.56,337.70 L397.56,337.70 L399.30,337.70 L399.30,340.30 L401.04,340.30 L401.04,340.30 L402.77,340.30 L402.77,338.00 L404.51,338.00 L404.51,340.70 L406.24,340.70 L406.24,340.70 L407.98,340.70 L407.98,340.70 L409.72,340.70 L409.72,340.70 L411.45,340.70 L411.45,345.10 L413.19,345.10 L413.19,345.10 L414.93,345.10 L414.93,345.10 L416.66,345.10 L416.66,345.10 L418.40,345.10 L418.40,349.00 L420.14,349.00 L420.14,349.00 L421.87,349.00 L421.87,349.00 L423.61,349.00 L423.61,351.20 L425.34,351.20 L425.34,351.20 L427.08,351.20 L427.08,351.20 L428.82,351.20 L428.82,351.20 L430.55,351.20 L430.55,351.20 L432.29,351.20 L432.29,352.50 L434.03,352.50 L434.03,352.50 L435.76,352.50 L435.76,352.59 L437.50,352.59 L437.50,351.43 L439.23,351.43 L439.23,351.83 L440.97,351.83 L440.97,354.00 L442.71,354.00 L442.71,352.61 L444.44,352.61 L444.44,355.53 L446.18,355.53 L446.18,355.61 L447.92,355.61 L447.92,356.76 L449.65,356.76 L449.65,356.55 L451.39,356.55 L451.39,356.42 L453.12,356.42 L453.12,356.78 L454.86,356.78 L454.86,356.80 L456.60,356.80 L456.60,357.51 L458.33,357.51 L458.33,357.55 L460.07,357.55 L460.07,357.63 L461.81,357.63 L461.81,356.99 L463.54,356.99 L463.54,360.18 L465.28,360.18 L465.28,360.52 L467.02,360.52 L467.02,361.00 L468.75,361.00 L468.75,361.64 L470.49,361.64 L470.49,361.55 L472.22,361.55 L472.22,362.02 L473.96,362.02 L473.96,362.44 L475.70,362.44 L475.70,361.06 L477.43,361.06 L477.43,363.27 L479.17,363.27 L479.17,361.46 L480.91,361.46 L480.91,364.75 L482.64,364.75 L482.64,365.25 L484.38,365.25 L484.38,365.33 L486.11,365.33 L486.11,365.46 L487.85,365.46 L487.85,365.92 L489.59,365.92 L489.59,366.04 L491.32,366.04 L491.32,366.12 L493.06,366.12 L493.06,367.00 L494.80,367.00 L494.80,367.65 L496.53,367.65 L496.53,367.81 L498.27,367.81 L498.27,368.03 L500.01,368.03 L500.01,367.36 L501.74,367.36 L501.74,369.30 L503.48,369.30 L503.48,369.22 L505.21,369.22 L505.21,368.14 L506.95,368.14 L506.95,370.10 L508.69,370.10 L508.69,370.64 L510.42,370.64 L510.42,370.52 L512.16,370.52 L512.16,370.84 L513.90,370.84 L513.90,371.47 L515.63,371.47 L515.63,370.99 L517.37,370.99 L517.37,371.18 L519.10,371.18 L519.10,371.69 L520.84,371.69 L520.84,371.64 L522.58,371.64 L522.58,372.36 L524.31,372.36 L524.31,372.97 L526.05,372.97 L526.05,372.74 L527.79,372.74 L527.79,370.19 L529.52,370.19 L529.52,373.20 L531.26,373.20 L531.26,373.48 L533.00,373.48 L533.00,371.21 L534.73,371.21 L534.73,372.11 L536.47,372.11 L536.47,373.93 L538.20,373.93 L538.20,372.85 L539.94,372.85 L539.94,374.40 L541.68,374.40 L541.68,374.56 L543.41,374.56 L543.41,375.24 L545.15,375.24 L545.15,375.17 L546.89,375.17 L546.89,375.46 L548.62,375.46 L548.62,376.04 L550.36,376.04 L550.36,375.93 L552.09,375.93 L552.09,374.13 L553.83,374.13 L553.83,376.15 L555.57,376.15 L555.57,373.40 L557.30,373.40 L557.30,376.85 L559.04,376.85 L559.04,375.06 L560.78,375.06 L560.78,377.39 L562.51,377.39 L562.51,377.06 L564.25,377.06 L564.25,376.70 L565.99,376.70 L565.99,376.93 L567.72,376.93 L567.72,376.84 L569.46,376.84 L569.46,377.48 L571.19,377.48 L571.19,379.34 L572.93,379.34 L572.93,380.15 L574.67,380.15 L574.67,380.61 L576.40,380.61 L576.40,380.95 L578.14,380.95 L578.14,379.51 L579.88,379.51 L579.88,381.77 L581.61,381.77 L581.61,382.73 L583.35,382.73 L583.35,382.89 L585.08,382.89 L585.08,383.08 L586.82,383.08 L586.82,382.68 L588.56,382.68 L588.56,382.84 L590.29,382.84 L590.29,383.41 L592.03,383.41 L592.03,383.94 L593.77,383.94 L593.77,384.15 L595.50,384.15 L595.50,384.05 L597.24,384.05 L597.24,385.06 L598.97,385.06 L598.97,385.27 L600.71,385.27 L600.71,385.06 L602.45,385.06 L602.45,385.44 L604.18,385.44 L604.18,386.21 L605.92,386.21 L605.92,386.01 L607.66,386.01 L607.66,386.56 L609.39,386.56 L609.39,386.52 L611.13,386.52 L611.13,387.57 L612.87,387.57 L612.87,387.40 L614.60,387.40 L614.60,388.46 L616.34,388.46 L616.34,388.21 L618.07,388.21 L618.07,385.36 L619.81,385.36 L619.81,389.05 L621.55,389.05 L621.55,389.88 L623.28,389.88 L623.28,390.43 L625.02,390.43 L625.02,390.50 L626.76,390.50 L626.76,391.13 L628.49,391.13 L628.49,391.94 L630.23,391.94 L630.23,392.38 L631.96,392.38 L631.96,393.34 L633.70,393.34 L633.70,393.59 L635.44,393.59 L635.44,394.57 L637.17,394.57 L637.17,395.21 L638.91,395.21 L638.91,395.55 L640.65,395.55 L640.65,395.91 L642.38,395.91 L642.38,394.21 L644.12,394.21 L644.12,397.57 L645.86,397.57 L645.86,398.73 L647.59,398.73 L647.59,398.77 L649.33,398.77 L649.33,399.32 L651.06,399.32 L651.06,399.32 L652.80,399.32 L652.80,401.31 L654.54,401.31 L654.54,404.25 L656.27,404.25 L656.27,405.33 L658.01,405.33 L658.01,406.12 L659.75,406.12 L659.75,406.39 L661.48,406.39 L661.48,407.01 L663.22,407.01 L663.22,411.15 L664.95,411.15 L664.95,412.90 L666.69,412.90 L666.69,414.10 L668.43,414.10 L668.43,415.32 L670.16,415.32 L670.16,438.80 L671.90,438.80 L671.90,498.30 Z" fill="#59c3af"/>
<line x1="376.30" y1="314.10" x2="379.70" y2="314.10" stroke="#333" stroke-width="1.0"/>
<text x="374.00" y="317.30" font-size="7.2" text-anchor="end" textLength="17.1" lengthAdjust="spacingAndGlyphs" fill="#111" stroke="#111" stroke-width="0.15">5e+07</text>
<line x1="376.30" y1="350.97" x2="379.70" y2="350.97" stroke="#333" stroke-width="1.0"/>
<text x="374.00" y="354.17" font-size="7.2" text-anchor="end" textLength="17.1" lengthAdjust="spacingAndGlyphs" fill="#111" stroke="#111" stroke-width="0.15">4e+07</text>
<line x1="376.30" y1="387.84" x2="379.70" y2="387.84" stroke="#333" stroke-width="1.0"/>
<text x="374.00" y="391.04" font-size="7.2" text-anchor="end" textLength="17.1" lengthAdjust="spacingAndGlyphs" fill="#111" stroke="#111" stroke-width="0.15">3e+07</text>
<line x1="376.30" y1="424.71" x2="379.70" y2="424.71" stroke="#333" stroke-width="1.0"/>
<text x="374.00" y="427.91" font-size="7.2" text-anchor="end" textLength="17.1" lengthAdjust="spacingAndGlyphs" fill="#111" stroke="#111" stroke-width="0.15">2e+07</text>
<line x1="376.30" y1="461.58" x2="379.70" y2="461.58" stroke="#333" stroke-width="1.0"/>
<text x="374.00" y="464.78" font-size="7.2" text-anchor="end" textLength="17.1" lengthAdjust="spacingAndGlyphs" fill="#111" stroke="#111" stroke-width="0.15">1e+07</text>
<line x1="376.30" y1="498.45" x2="379.70" y2="498.45" stroke="#333" stroke-width="1.0"/>
<text x="374.00" y="501.65" font-size="7.2" text-anchor="end" textLength="17.1" lengthAdjust="spacingAndGlyphs" fill="#111" stroke="#111" stroke-width="0.15">0e+00</text>
<line x1="379.70" y1="298.80" x2="379.70" y2="498.80" stroke="#6a6a6a" stroke-width="1"/>
<line x1="379.20" y1="498.30" x2="672.30" y2="498.30" stroke="#1a1a1a" stroke-width="1.1"/>
<text x="525.80" y="292.00" font-size="9.0" text-anchor="middle" font-weight="bold" fill="#111">C2C12</text>
<text x="488.40" y="514.10" font-size="9.33" textLength="73.6" lengthAdjust="spacingAndGlyphs" fill="#111" stroke="#111" stroke-width="0.15">Sample (N = 168)</text>
<text x="402.90" y="470.60" font-size="9.2" fill="#111" stroke="#111" stroke-width="0.15">5.92</text>
<text x="427.10" y="470.60" font-size="9.2" text-anchor="middle" fill="#111" stroke="#111" stroke-width="0.15">×</text>
<text x="433.40" y="470.60" font-size="9.2" fill="#111" stroke="#111" stroke-width="0.15">10</text>
<text x="443.70" y="467.70" font-size="4.6" fill="#111" stroke="#111" stroke-width="0.15">9</text>
<text x="446.10" y="470.60" font-size="9.2" textLength="10.8" lengthAdjust="spacingAndGlyphs" fill="#111" stroke="#111" stroke-width="0.15">bp</text>
<text x="402.90" y="481.90" font-size="9.2" textLength="63.3" lengthAdjust="spacingAndGlyphs" fill="#111" stroke="#111" stroke-width="0.15">(unique 93.7%)</text>
<rect x="609.55" y="309.35" width="57.9" height="34.1" rx="0.8" fill="#fff" stroke="#333" stroke-width="0.9"/>
<rect x="617.80" y="317.40" width="7.1" height="7.4" fill="#cccccc"/>
<rect x="617.80" y="326.60" width="7.1" height="8.4" fill="#59c3af"/>
<text x="632.60" y="326.60" font-size="9.5" textLength="33.0" lengthAdjust="spacingAndGlyphs" fill="#111" stroke="#111" stroke-width="0.15">Multiple</text>
<text x="632.60" y="335.20" font-size="9.5" textLength="29.8" lengthAdjust="spacingAndGlyphs" fill="#111" stroke="#111" stroke-width="0.15">Unique</text>
<rect x="576.10" y="496.80" width="1" height="1.50" fill="#8c7c76"/>
<rect x="579.60" y="496.80" width="1" height="1.50" fill="#8c7c76"/>
<rect x="598.00" y="496.80" width="1" height="1.50" fill="#8c7c76"/>
<rect x="638.30" y="496.80" width="1" height="1.50" fill="#8c7c76"/>
<rect x="655.80" y="494.50" width="1" height="3.80" fill="#8c7c76"/>
<rect x="659.30" y="493.60" width="1" height="4.70" fill="#8c7c76"/>
<rect x="660.70" y="494.00" width="1" height="4.30" fill="#8c7c76"/>
<rect x="665.50" y="496.50" width="1" height="1.80" fill="#8c7c76"/>
<rect x="669.00" y="490.70" width="1" height="7.60" fill="#8c7c76"/>
<rect x="259.9" y="495.9" width="1" height="2.4" fill="#8c7c76"/>
<path d="M41.00,757.50 L41.00,563.00 L42.81,563.00 L42.81,563.80 L44.61,563.80 L44.61,571.60 L46.42,571.60 L46.42,571.60 L48.22,571.60 L48.22,574.70 L50.03,574.70 L50.03,574.70 L51.83,574.70 L51.83,576.50 L53.64,576.50 L53.64,576.50 L55.44,576.50 L55.44,581.30 L57.25,581.30 L57.25,581.30 L59.06,581.30 L59.06,583.90 L60.86,583.90 L60.86,585.20 L62.67,585.20 L62.67,585.20 L64.47,585.20 L64.47,585.20 L66.28,585.20 L66.28,585.60 L68.08,585.60 L68.08,585.60 L69.89,585.60 L69.89,588.70 L71.69,588.70 L71.69,588.70 L73.50,588.70 L73.50,588.70 L75.31,588.70 L75.31,590.00 L77.11,590.00 L77.11,590.00 L78.92,590.00 L78.92,591.80 L80.72,591.80 L80.72,591.80 L82.53,591.80 L82.53,591.80 L84.33,591.80 L84.33,593.50 L86.14,593.50 L86.14,593.50 L87.94,593.50 L87.94,593.50 L89.75,593.50 L89.75,597.00 L91.56,597.00 L91.56,597.00 L93.36,597.00 L93.36,597.00 L95.17,597.00 L95.17,597.00 L96.97,597.00 L96.97,597.00 L98.78,597.00 L98.78,597.99 L100.58,597.99 L100.58,598.52 L102.39,598.52 L102.39,598.95 L104.19,598.95 L104.19,599.32 L106.00,599.32 L106.00,599.70 L107.81,599.70 L107.81,600.08 L109.61,600.08 L109.61,600.48 L111.42,600.48 L111.42,600.89 L113.22,600.89 L113.22,601.30 L115.03,601.30 L115.03,601.71 L116.83,601.71 L116.83,602.13 L118.64,602.13 L118.64,602.43 L120.44,602.43 L120.44,602.65 L122.25,602.65 L122.25,602.87 L124.06,602.87 L124.06,603.09 L125.86,603.09 L125.86,603.31 L127.67,603.31 L127.67,603.65 L129.47,603.65 L129.47,603.98 L131.28,603.98 L131.28,604.31 L133.08,604.31 L133.08,604.65 L134.89,604.65 L134.89,605.01 L136.69,605.01 L136.69,605.39 L138.50,605.39 L138.50,605.77 L140.31,605.77 L140.31,606.13 L142.11,606.13 L142.11,606.37 L143.92,606.37 L143.92,606.62 L145.72,606.62 L145.72,606.86 L147.53,606.86 L147.53,607.11 L149.33,607.11 L149.33,607.37 L151.14,607.37 L151.14,607.63 L152.94,607.63 L152.94,607.89 L154.75,607.89 L154.75,608.16 L156.56,608.16 L156.56,608.41 L158.36,608.41 L158.36,608.58 L160.17,608.58 L160.17,608.74 L161.97,608.74 L161.97,608.90 L163.78,608.90 L163.78,609.06 L165.58,609.06 L165.58,609.21 L167.39,609.21 L167.39,609.37 L169.19,609.37 L169.19,609.52 L171.00,609.52 L171.00,609.67 L172.81,609.67 L172.81,609.85 L174.61,609.85 L174.61,610.02 L176.42,610.02 L176.42,610.20 L178.22,610.20 L178.22,610.38 L180.03,610.38 L180.03,610.56 L181.83,610.56 L181.83,610.77 L183.64,610.77 L183.64,611.12 L185.44,611.12 L185.44,611.48 L187.25,611.48 L187.25,611.83 L189.06,611.83 L189.06,612.18 L190.86,612.18 L190.86,612.48 L192.67,612.48 L192.67,612.78 L194.47,612.78 L194.47,613.08 L196.28,613.08 L196.28,613.39 L198.08,613.39 L198.08,613.72 L199.89,613.72 L199.89,614.05 L201.69,614.05 L201.69,614.38 L203.50,614.38 L203.50,614.71 L205.31,614.71 L205.31,615.06 L207.11,615.06 L207.11,615.42 L208.92,615.42 L208.92,615.77 L210.72,615.77 L210.72,616.13 L212.53,616.13 L212.53,616.45 L214.33,616.45 L214.33,616.66 L216.14,616.66 L216.14,616.87 L217.94,616.87 L217.94,617.08 L219.75,617.08 L219.75,617.29 L221.56,617.29 L221.56,617.50 L223.36,617.50 L223.36,617.67 L225.17,617.67 L225.17,617.79 L226.97,617.79 L226.97,617.92 L228.78,617.92 L228.78,618.04 L230.58,618.04 L230.58,618.16 L232.39,618.16 L232.39,618.39 L234.19,618.39 L234.19,618.66 L236.00,618.66 L236.00,618.92 L237.81,618.92 L237.81,619.19 L239.61,619.19 L239.61,619.45 L241.42,619.45 L241.42,619.72 L243.22,619.72 L243.22,620.10 L245.03,620.10 L245.03,620.47 L246.83,620.47 L246.83,620.84 L248.64,620.84 L248.64,621.21 L250.44,621.21 L250.44,621.58 L252.25,621.58 L252.25,621.89 L254.06,621.89 L254.06,622.11 L255.86,622.11 L255.86,622.33 L257.67,622.33 L257.67,622.55 L259.47,622.55 L259.47,622.77 L261.28,622.77 L261.28,622.99 L263.08,622.99 L263.08,623.21 L264.89,623.21 L264.89,623.83 L266.69,623.83 L266.69,624.70 L268.50,624.70 L268.50,624.88 L270.31,624.88 L270.31,624.97 L272.11,624.97 L272.11,625.06 L273.92,625.06 L273.92,625.14 L275.72,625.14 L275.72,625.23 L277.53,625.23 L277.53,625.74 L279.33,625.74 L279.33,627.61 L281.14,627.61 L281.14,628.92 L282.94,628.92 L282.94,629.82 L284.75,629.82 L284.75,630.73 L286.56,630.73 L286.56,631.58 L288.36,631.58 L288.36,632.18 L290.17,632.18 L290.17,632.77 L291.97,632.77 L291.97,633.36 L293.78,633.36 L293.78,633.91 L295.58,633.91 L295.58,634.87 L297.39,634.87 L297.39,636.60 L299.19,636.60 L299.19,637.35 L301.00,637.35 L301.00,638.06 L302.81,638.06 L302.81,638.72 L304.61,638.72 L304.61,639.12 L306.42,639.12 L306.42,639.52 L308.22,639.52 L308.22,639.93 L310.03,639.93 L310.03,640.35 L311.83,640.35 L311.83,640.76 L313.64,640.76 L313.64,643.96 L315.44,643.96 L315.44,645.02 L317.25,645.02 L317.25,645.99 L319.06,645.99 L319.06,646.92 L320.86,646.92 L320.86,647.42 L322.67,647.42 L322.67,647.80 L324.47,647.80 L324.47,663.30 L326.28,663.30 L326.28,667.20 L328.08,667.20 L328.08,685.80 L329.89,685.80 L329.89,705.20 L331.69,705.20 L331.69,719.20 L333.50,719.20 L333.50,757.50 Z" fill="#cccccc"/>
<path d="M41.00,757.50 L41.00,577.90 L42.81,577.90 L42.81,581.70 L44.61,581.70 L44.61,589.60 L46.42,589.60 L46.42,589.60 L48.22,589.60 L48.22,592.20 L50.03,592.20 L50.03,592.20 L51.83,592.20 L51.83,594.80 L53.64,594.80 L53.64,594.80 L55.44,594.80 L55.44,597.90 L57.25,597.90 L57.25,597.90 L59.06,597.90 L59.06,601.00 L60.86,601.00 L60.86,600.50 L62.67,600.50 L62.67,600.50 L64.47,600.50 L64.47,600.50 L66.28,600.50 L66.28,604.00 L68.08,604.00 L68.08,604.00 L69.89,604.00 L69.89,605.80 L71.69,605.80 L71.69,605.80 L73.50,605.80 L73.50,605.80 L75.31,605.80 L75.31,606.70 L77.11,606.70 L77.11,606.70 L78.92,606.70 L78.92,608.40 L80.72,608.40 L80.72,608.40 L82.53,608.40 L82.53,608.40 L84.33,608.40 L84.33,608.90 L86.14,608.90 L86.14,608.90 L87.94,608.90 L87.94,608.90 L89.75,608.90 L89.75,611.00 L91.56,611.00 L91.56,611.00 L93.36,611.00 L93.36,611.00 L95.17,611.00 L95.17,611.00 L96.97,611.00 L96.97,611.00 L98.78,611.00 L98.78,612.57 L100.58,612.57 L100.58,613.90 L102.39,613.90 L102.39,613.78 L104.19,613.78 L104.19,613.87 L106.00,613.87 L106.00,613.99 L107.81,613.99 L107.81,614.69 L109.61,614.69 L109.61,614.63 L111.42,614.63 L111.42,615.63 L113.22,615.63 L113.22,616.16 L115.03,616.16 L115.03,615.98 L116.83,615.98 L116.83,616.48 L118.64,616.48 L118.64,617.30 L120.44,617.30 L120.44,616.90 L122.25,616.90 L122.25,617.33 L124.06,617.33 L124.06,617.22 L125.86,617.22 L125.86,615.67 L127.67,615.67 L127.67,616.00 L129.47,616.00 L129.47,617.93 L131.28,617.93 L131.28,617.59 L133.08,617.59 L133.08,618.28 L134.89,618.28 L134.89,618.17 L136.69,618.17 L136.69,618.81 L138.50,618.81 L138.50,619.69 L140.31,619.69 L140.31,620.14 L142.11,620.14 L142.11,620.61 L143.92,620.61 L143.92,620.23 L145.72,620.23 L145.72,620.72 L147.53,620.72 L147.53,618.32 L149.33,618.32 L149.33,618.53 L151.14,618.53 L151.14,622.02 L152.94,622.02 L152.94,621.87 L154.75,621.87 L154.75,621.85 L156.56,621.85 L156.56,622.16 L158.36,622.16 L158.36,622.24 L160.17,622.24 L160.17,622.01 L161.97,622.01 L161.97,622.96 L163.78,622.96 L163.78,623.22 L165.58,623.22 L165.58,623.26 L167.39,623.26 L167.39,623.56 L169.19,623.56 L169.19,624.01 L171.00,624.01 L171.00,623.89 L172.81,623.89 L172.81,622.35 L174.61,622.35 L174.61,623.68 L176.42,623.68 L176.42,624.19 L178.22,624.19 L178.22,624.22 L180.03,624.22 L180.03,624.01 L181.83,624.01 L181.83,624.36 L183.64,624.36 L183.64,624.78 L185.44,624.78 L185.44,624.74 L187.25,624.74 L187.25,625.34 L189.06,625.34 L189.06,625.44 L190.86,625.44 L190.86,625.51 L192.67,625.51 L192.67,624.40 L194.47,624.40 L194.47,625.97 L196.28,625.97 L196.28,626.64 L198.08,626.64 L198.08,627.03 L199.89,627.03 L199.89,628.11 L201.69,628.11 L201.69,628.02 L203.50,628.02 L203.50,628.41 L205.31,628.41 L205.31,628.68 L207.11,628.68 L207.11,628.91 L208.92,628.91 L208.92,629.48 L210.72,629.48 L210.72,628.90 L212.53,628.90 L212.53,628.95 L214.33,628.95 L214.33,628.74 L216.14,628.74 L216.14,629.63 L217.94,629.63 L217.94,629.92 L219.75,629.92 L219.75,630.27 L221.56,630.27 L221.56,630.85 L223.36,630.85 L223.36,629.71 L225.17,629.71 L225.17,631.44 L226.97,631.44 L226.97,631.63 L228.78,631.63 L228.78,631.69 L230.58,631.69 L230.58,631.82 L232.39,631.82 L232.39,631.42 L234.19,631.42 L234.19,631.37 L236.00,631.37 L236.00,629.18 L237.81,629.18 L237.81,632.14 L239.61,632.14 L239.61,632.10 L241.42,632.10 L241.42,631.73 L243.22,631.73 L243.22,632.38 L245.03,632.38 L245.03,632.98 L246.83,632.98 L246.83,633.15 L248.64,633.15 L248.64,633.59 L250.44,633.59 L250.44,632.31 L252.25,632.31 L252.25,631.33 L254.06,631.33 L254.06,634.42 L255.86,634.42 L255.86,634.74 L257.67,634.74 L257.67,632.29 L259.47,632.29 L259.47,635.36 L261.28,635.36 L261.28,635.45 L263.08,635.45 L263.08,635.68 L264.89,635.68 L264.89,635.04 L266.69,635.04 L266.69,637.70 L268.50,637.70 L268.50,637.86 L270.31,637.86 L270.31,637.73 L272.11,637.73 L272.11,637.80 L273.92,637.80 L273.92,638.10 L275.72,638.10 L275.72,636.78 L277.53,636.78 L277.53,637.84 L279.33,637.84 L279.33,638.35 L281.14,638.35 L281.14,639.67 L282.94,639.67 L282.94,642.35 L284.75,642.35 L284.75,642.89 L286.56,642.89 L286.56,643.28 L288.36,643.28 L288.36,640.89 L290.17,640.89 L290.17,643.91 L291.97,643.91 L291.97,643.03 L293.78,643.03 L293.78,646.08 L295.58,646.08 L295.58,647.04 L297.39,647.04 L297.39,647.51 L299.19,647.51 L299.19,648.17 L301.00,648.17 L301.00,648.99 L302.81,648.99 L302.81,650.48 L304.61,650.48 L304.61,650.60 L306.42,650.60 L306.42,650.89 L308.22,650.89 L308.22,650.60 L310.03,650.60 L310.03,650.18 L311.83,650.18 L311.83,652.29 L313.64,652.29 L313.64,653.88 L315.44,653.88 L315.44,655.57 L317.25,655.57 L317.25,654.65 L319.06,654.65 L319.06,658.32 L320.86,658.32 L320.86,659.51 L322.67,659.51 L322.67,660.20 L324.47,660.20 L324.47,668.00 L326.28,668.00 L326.28,675.70 L328.08,675.70 L328.08,692.80 L329.89,692.80 L329.89,709.90 L331.69,709.90 L331.69,726.20 L333.50,726.20 L333.50,757.50 Z" fill="#59c3af"/>
<line x1="37.30" y1="588.00" x2="40.70" y2="588.00" stroke="#333" stroke-width="1.0"/>
<text x="35.70" y="591.40" font-size="7.2" text-anchor="end" textLength="17.8" lengthAdjust="spacingAndGlyphs" fill="#111" stroke="#111" stroke-width="0.15">4e+07</text>
<line x1="37.30" y1="630.50" x2="40.70" y2="630.50" stroke="#333" stroke-width="1.0"/>
<text x="35.70" y="633.90" font-size="7.2" text-anchor="end" textLength="17.8" lengthAdjust="spacingAndGlyphs" fill="#111" stroke="#111" stroke-width="0.15">3e+07</text>
<line x1="37.30" y1="673.00" x2="40.70" y2="673.00" stroke="#333" stroke-width="1.0"/>
<text x="35.70" y="676.40" font-size="7.2" text-anchor="end" textLength="17.8" lengthAdjust="spacingAndGlyphs" fill="#111" stroke="#111" stroke-width="0.15">2e+07</text>
<line x1="37.30" y1="715.50" x2="40.70" y2="715.50" stroke="#333" stroke-width="1.0"/>
<text x="35.70" y="718.90" font-size="7.2" text-anchor="end" textLength="17.8" lengthAdjust="spacingAndGlyphs" fill="#111" stroke="#111" stroke-width="0.15">1e+07</text>
<line x1="37.30" y1="758.00" x2="40.70" y2="758.00" stroke="#333" stroke-width="1.0"/>
<text x="35.70" y="761.40" font-size="7.2" text-anchor="end" textLength="17.8" lengthAdjust="spacingAndGlyphs" fill="#111" stroke="#111" stroke-width="0.15">0e+00</text>
<line x1="40.70" y1="558.10" x2="40.70" y2="758.00" stroke="#6a6a6a" stroke-width="1"/>
<line x1="40.20" y1="757.50" x2="334.00" y2="757.50" stroke="#1a1a1a" stroke-width="1.1"/>
<text x="187.30" y="551.90" font-size="8.9" text-anchor="middle" font-weight="bold" fill="#111">PC12</text>
<text x="149.60" y="769.50" font-size="9.33" textLength="73.2" lengthAdjust="spacingAndGlyphs" fill="#111" stroke="#111" stroke-width="0.15">Sample (N = 162)</text>
<text x="14.00" y="664.50" font-size="9.3" text-anchor="middle" fill="#111" stroke="#111" stroke-width="0.15" transform="rotate(-90 14.0 664.5)">#Reads</text>
<text x="55.20" y="735.00" font-size="9.2" fill="#111" stroke="#111" stroke-width="0.15">5.52</text>
<text x="79.40" y="735.00" font-size="9.2" text-anchor="middle" fill="#111" stroke="#111" stroke-width="0.15">×</text>
<text x="85.70" y="735.00" font-size="9.2" fill="#111" stroke="#111" stroke-width="0.15">10</text>
<text x="96.00" y="732.10" font-size="4.6" fill="#111" stroke="#111" stroke-width="0.15">9</text>
<text x="98.40" y="735.00" font-size="9.2" textLength="10.8" lengthAdjust="spacingAndGlyphs" fill="#111" stroke="#111" stroke-width="0.15">bp</text>
<text x="55.20" y="746.30" font-size="9.2" textLength="63.3" lengthAdjust="spacingAndGlyphs" fill="#111" stroke="#111" stroke-width="0.15">(unique 90.2%)</text>
<rect x="270.75" y="568.95" width="57.9" height="34.1" rx="0.8" fill="#fff" stroke="#333" stroke-width="0.9"/>
<rect x="279.00" y="577.00" width="7.1" height="7.4" fill="#cccccc"/>
<rect x="279.00" y="586.20" width="7.1" height="8.4" fill="#59c3af"/>
<text x="293.80" y="586.20" font-size="9.5" textLength="33.0" lengthAdjust="spacingAndGlyphs" fill="#111" stroke="#111" stroke-width="0.15">Multiple</text>
<text x="293.80" y="594.80" font-size="9.5" textLength="29.8" lengthAdjust="spacingAndGlyphs" fill="#111" stroke="#111" stroke-width="0.15">Unique</text>
</svg>
</body></html>
